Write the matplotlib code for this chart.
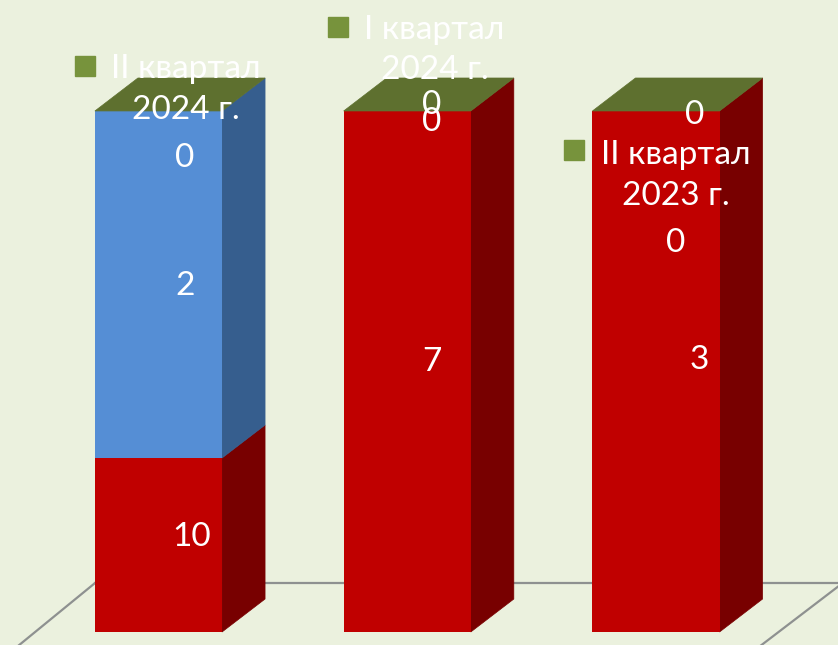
import matplotlib
matplotlib.use("Agg")
import matplotlib.pyplot as plt
from matplotlib.patches import Polygon

# данные: доли сегментов (100% накопление) и подписи, как на картинке
red_share = [33.4, 100.0, 100.0]
blue_share = [66.6, 0.0, 0.0]
green_share = [0.0, 0.0, 0.0]
red_labels = ["10", "7", "3"]
blue_labels = ["2", "", ""]
green_values = ["0", "0", "0"]
series_names = ["II квартал\n2024 г.", "I квартал\n2024 г.", "II квартал\n2023 г."]

BG = "#EBF1DE"
RED, RED_SIDE = "#C00000", "#780000"
BLUE, BLUE_SIDE = "#558ED5", "#365E8E"
GREEN_TOP, GREEN_KEY = "#5E702F", "#77933C"

W = 0.511          # ширина столбца
DX, DY = 0.173, 6.33  # глубина (псевдо-3D)

fig = plt.figure(figsize=(8.38, 6.45), dpi=100, facecolor=BG)
ax = fig.add_axes([0, 0, 1, 1])
ax.set_facecolor(BG)
ax.set_xlim(-0.637, 2.7317)
ax.set_ylim(-2.495, 121.3)
ax.axis("off")

# пол
fl = dict(color="#8E9190", lw=1.6, zorder=1)
ax.plot([-0.255, 3.0], [9.4, 9.4], **fl)
ax.plot([-0.255, -0.255 - 0.62], [9.4, 9.4 - 24.2], **fl)
ax.plot([2.424 + 0.62, 2.424 - 0.2], [-2.5 + 22.6, -2.5 - 7.3], **fl)

x = list(range(len(red_share)))
ax.bar(x, red_share, width=W, color=RED, zorder=3)
ax.bar(x, blue_share, width=W, bottom=red_share, color=BLUE, zorder=3)


def side(xc, y0, y1, color):
    r = xc + W / 2
    ax.add_patch(Polygon([(r, y0), (r + DX, y0 + DY), (r + DX, y1 + DY), (r, y1)],
                         closed=True, facecolor=color, edgecolor=color, lw=0.5, zorder=2))


for i in x:
    r0, r1 = 0, red_share[i]
    b1 = r1 + blue_share[i]
    side(i, r0, r1, RED_SIDE)
    if blue_share[i] > 0:
        side(i, r1, b1, BLUE_SIDE)
    top = b1 + green_share[i]
    l, r = i - W / 2, i + W / 2
    ax.add_patch(Polygon([(l, top), (r, top), (r + DX, top + DY), (l + DX, top + DY)],
                         closed=True, facecolor=GREEN_TOP, edgecolor=GREEN_TOP, lw=0.5, zorder=4))

txt = dict(color="white", fontsize=24, family=["Lato", "DejaVu Sans"], ha="center", va="center",
           zorder=6, linespacing=1.45)

# подписи значений
ax.text(0.135, 18.2, red_labels[0], **txt)
ax.text(1.10, 51.8, red_labels[1], **txt)
ax.text(2.173, 52.2, red_labels[2], **txt)
ax.text(0.107, 66.4, blue_labels[0], **txt)
ax.text(0.107, 91.0, green_values[0], **txt)
ax.text(1.10, 101.2, green_values[1], **txt)
ax.text(1.10, 97.9, green_values[1], **txt)
ax.text(2.157, 99.2, green_values[2], **txt)
ax.text(2.08, 74.7, green_values[2], **txt)

# подписи рядов с ключом легенды
name_pos = [(0.11, 104.1), (1.11, 111.7), (2.08, 87.6)]
key_pos = [(-0.297, 108.6), (0.72, 116.1), (1.672, 92.5)]
for (tx, ty), (kx, ky), name in zip(name_pos, key_pos, series_names):
    ax.text(tx, ty, name, **txt)
    ax.plot(kx, ky, marker="s", markersize=15, color=GREEN_KEY, zorder=6)

fig.savefig("out.png", dpi=100, facecolor=BG)
